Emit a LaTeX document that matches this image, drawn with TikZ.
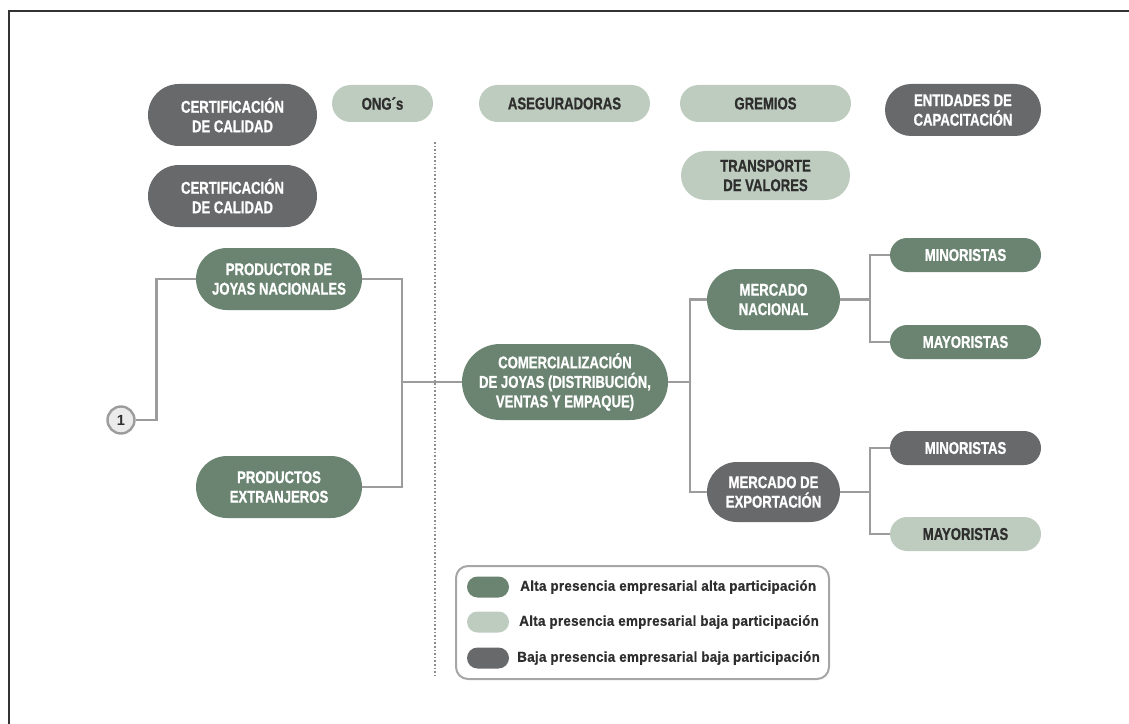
\documentclass[tikz,border=0pt]{standalone}
\usepackage{fontspec}
\usetikzlibrary{shapes.misc}
\setmainfont{Liberation Sans}
\newfontfamily\condfont{Liberation Sans}[FakeStretch=0.77, FakeBold=0.9]
\newfontfamily\legfont{Liberation Sans}[FakeStretch=0.93, FakeBold=0.6, LetterSpace=2]
\definecolor{dkgreen}{HTML}{6A8471}
\definecolor{ltgreen}{HTML}{BECCC0}
\definecolor{dkgray}{HTML}{68696B}
\definecolor{linegray}{HTML}{9C9C9C}
\definecolor{txtdark}{HTML}{2E2E2E}
\tikzset{
  pill/.style 2 args={rounded rectangle, inner sep=0pt, align=center,
    minimum width=#1*0.75pt, minimum height=#2*0.75pt,
    font=\condfont\bfseries\fontsize{12.8}{14.6}\selectfont},
  hi/.style={fill=dkgreen, text=white},
  lo/.style={fill=ltgreen, text=txtdark},
  bj/.style={fill=dkgray, text=white},
  link/.style={draw=linegray, line width=2.2pt, line join=miter},
  legtext/.style={anchor=west, inner sep=0pt, text=txtdark,
    font=\legfont\bfseries\fontsize{10.8}{12}\selectfont},
  legpill/.style={rounded rectangle, inner sep=0pt,
    minimum width=42*0.75pt, minimum height=21*0.75pt}
}
\begin{document}
\begin{tikzpicture}[x=0.75pt, y=-0.75pt]
\useasboundingbox (0,0) rectangle (1129,724);
% outer frame (top and left edges)
\draw[line width=1.6pt, color=black!80] (1129,11) -- (9,11) -- (9,724);

% dotted divider
\draw[black!45, line width=1.4pt, dash pattern=on 1.2pt off 1.5pt] (435,142) -- (435,678);

% support institutions
\node[pill={169}{62}, bj] (cert1) at (232.5,115) {CERTIFICACIÓN\\DE CALIDAD};
\node[pill={101}{37}, lo] (ong) at (382.5,103.5) {ONG´s};
\node[pill={171}{37}, lo] (aseg) at (564.5,103.5) {ASEGURADORAS};
\node[pill={171}{37}, lo] (grem) at (765.5,103.5) {GREMIOS};
\node[pill={156}{52}, bj] (capac) at (963,110) {ENTIDADES DE\\CAPACITACIÓN};
\node[pill={169}{62}, bj] (cert2) at (232.5,196) {CERTIFICACIÓN\\DE CALIDAD};
\node[pill={169}{49}, lo] (transp) at (765.5,175.5) {TRANSPORTE\\DE VALORES};

% value chain
\node[circle, draw=linegray, line width=1.8pt, fill=black!8, minimum size=27*0.75pt,
  inner sep=0pt, text=txtdark, font=\bfseries\fontsize{11}{12}\selectfont] (one) at (121,420) {1};
\node[pill={166}{62}, hi] (prod) at (279,279) {PRODUCTOR DE\\JOYAS NACIONALES};
\node[pill={166}{62}, hi] (ext) at (279,487) {PRODUCTOS\\EXTRANJEROS};
\node[pill={206}{76}, hi] (com) at (565,382) {COMERCIALIZACIÓN\\DE JOYAS (DISTRIBUCIÓN,\\VENTAS Y EMPAQUE)};
\node[pill={133}{61}, hi] (nac) at (773.5,299.5) {MERCADO\\NACIONAL};
\node[pill={133}{60}, bj] (expo) at (773.5,492) {MERCADO DE\\EXPORTACIÓN};
\node[pill={151}{34}, hi] (min1) at (965.5,255) {MINORISTAS};
\node[pill={151}{34}, hi] (may1) at (965.5,342) {MAYORISTAS};
\node[pill={151}{34}, bj] (min2) at (965.5,448) {MINORISTAS};
\node[pill={151}{34}, lo] (may2) at (965.5,534) {MAYORISTAS};

% branch points
\coordinate (j1) at (402,382);
\coordinate (j2) at (690,382);
\coordinate (j3) at (870,299.5);
\coordinate (j4) at (870,492);

% connectors
\draw[link] (one.east) -- ++(21,0) |- (prod.west);
\draw[link] (prod.east) -| (j1) |- (ext.east);
\draw[link] (j1) -- (com.west);
\draw[link] (com.east) -- (j2);
\draw[link] (nac.west) -| (j2) |- (expo.west);
\draw[link] (nac.east) -- (j3);
\draw[link] (min1.west) -| (j3) |- (may1.west);
\draw[link] (expo.east) -- (j4);
\draw[link] (min2.west) -| (j4) |- (may2.west);

% legend
\draw[draw=black!35, line width=1.5pt, rounded corners=12*0.75pt, fill=white]
  (456,566) rectangle (829,679);
\node[legpill, fill=dkgreen] (lg1) at (488,587) {};
\node[legpill, fill=ltgreen] (lg2) at (488,622) {};
\node[legpill, fill=dkgray] (lg3) at (488,658) {};
\node[legtext] (lt1) at (520,587) {Alta presencia empresarial alta participación};
\node[legtext] (lt2) at (519,622) {Alta presencia empresarial baja participación};
\node[legtext] (lt3) at (517,658) {Baja presencia empresarial baja participación};
\end{tikzpicture}
\end{document}
